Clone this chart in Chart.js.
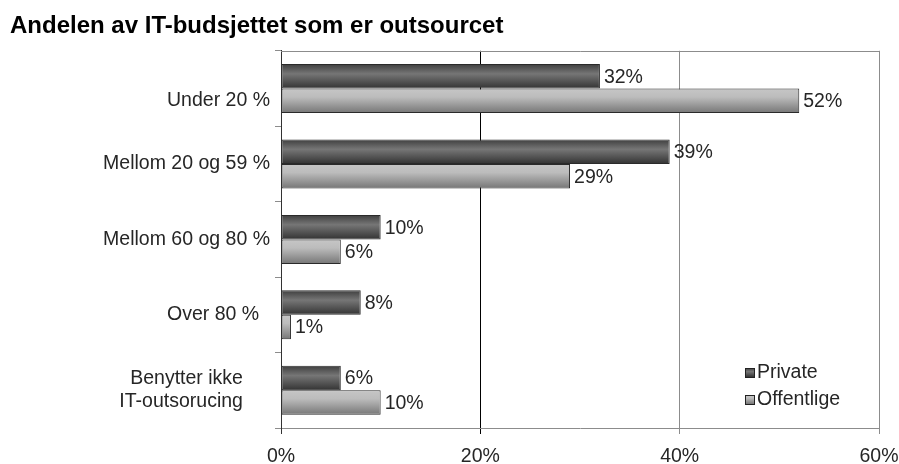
<!DOCTYPE html>
<html>
<head>
<meta charset="utf-8">
<script src="https://cdn.jsdelivr.net/npm/chart.js@4/dist/chart.umd.min.js"></script>
<style>
  html, body { margin: 0; padding: 0; background: #fff; }
  #wrap { width: 899px; height: 464px; }
</style>
</head>
<body>
<div id="wrap"><canvas id="c" width="899" height="464"></canvas></div>
<script>
// ---- data ----
const titleText = 'Andelen av IT-budsjettet som er outsourcet';
const categories = [['', 'Under 20 %'], 'Mellom 20 og 59 %', 'Mellom 60 og 80 %', 'Over 80 %', ['Benytter ikke', 'IT-outsorucing']];
const seriesNames = ['Private', 'Offentlige'];
const privateValues = [32, 39, 10, 8, 6];
const offentligeValues = [52, 29, 6, 1, 10];
const xTicks = [0, 20, 40, 60];

// ---- styling ----
const FONT = "'Liberation Sans', Arial, sans-serif";
const TXT = '#262626';
const labelPad = ['', '', '', '  ', '     '];   // visual right-indent per category label
const gradStops = [
  [[0, '#3e3e3e'], [0.4, '#767676'], [1, '#333333']],
  [[0, '#c6c6c6'], [0.35, '#bcbcbc'], [1, '#767676']]
];

function makeGrad(ctx, top, h, idx) {
  const g = ctx.createLinearGradient(0, top, 0, top + h);
  gradStops[idx].forEach(s => g.addColorStop(s[0], s[1]));
  return g;
}

const gradientPlugin = {
  id: 'grad',
  beforeDatasetsDraw(chart) {
    const ctx = chart.ctx;
    chart.data.datasets.forEach((ds, i) => {
      chart.getDatasetMeta(i).data.forEach(bar => {
        const top = bar.y - bar.height / 2;
        bar.options = Object.assign({}, bar.options, { backgroundColor: makeGrad(ctx, top, bar.height, i) });
      });
    });
  },
  afterDatasetsDraw(chart) {
    const ctx = chart.ctx;
    ctx.save();
    ctx.font = '19.5px ' + FONT;
    ctx.fillStyle = TXT;
    ctx.textAlign = 'left';
    ctx.textBaseline = 'middle';
    chart.data.datasets.forEach((ds, i) => {
      chart.getDatasetMeta(i).data.forEach((bar, j) => {
        ctx.fillText(ds.data[j] + '%', bar.x + 4, bar.y + 1);
      });
    });
    ctx.restore();
  },
  afterDraw(chart) {
    const ctx = chart.ctx;
    const a = chart.chartArea;
    ctx.save();
    // top frame line
    ctx.strokeStyle = '#8c8c8c';
    ctx.lineWidth = 1;
    ctx.beginPath();
    ctx.moveTo(a.left, Math.round(a.top) + 0.5);
    ctx.lineTo(a.right + 0.5, Math.round(a.top) + 0.5);
    ctx.stroke();
    // legend
    const lx = a.right - 134, ly0 = a.bottom - 56, step = 27, sq = 9;
    ctx.font = '19.5px ' + FONT;
    ctx.textBaseline = 'middle';
    ctx.textAlign = 'left';
    chart.data.datasets.forEach((ds, i) => {
      const cy = ly0 + i * step;
      const top = Math.round(cy - sq / 2);
      ctx.fillStyle = makeGrad(ctx, top, sq, i);
      ctx.fillRect(lx, top, sq, sq);
      ctx.strokeStyle = '#222';
      ctx.strokeRect(lx + 0.5, top + 0.5, sq, sq);
      ctx.fillStyle = TXT;
      ctx.fillText(ds.label, lx + 12, cy + 1);
    });
    ctx.restore();
  }
};

new Chart(document.getElementById('c'), {
  type: 'bar',
  data: {
    labels: categories,
    datasets: [
      { label: seriesNames[0], data: privateValues, borderColor: '#2a2a2a', borderWidth: 1, borderSkipped: false },
      { label: seriesNames[1], data: offentligeValues, borderColor: '#2a2a2a', borderWidth: 1, borderSkipped: false }
    ]
  },
  options: {
    indexAxis: 'y',
    responsive: false,
    animation: false,
    devicePixelRatio: 1,
    layout: { padding: { left: 10, right: 20, top: 0, bottom: 0 } },
    datasets: { bar: { categoryPercentage: 0.65, barPercentage: 1.0 } },
    plugins: {
      legend: { display: false },
      tooltip: { enabled: false },
      title: {
        display: true,
        text: titleText,
        align: 'start',
        color: '#000',
        font: { family: FONT, size: 24, weight: 'bold' },
        padding: { top: 12, bottom: 10 }
      }
    },
    scales: {
      x: {
        min: 0, max: 60,
        afterBuildTicks(scale) { scale.ticks = xTicks.map(v => ({ value: v })); },
        afterFit(scale) { scale.height = 36; scale.paddingRight = 0; scale.paddingLeft = 0; },
        ticks: {
          color: TXT,
          font: { family: FONT, size: 19.5 },
          padding: 11,
          callback: v => v + '%'
        },
        grid: {
          color: ctx => (ctx.tick && ctx.tick.value === 20) ? '#000' : (ctx.tick && ctx.tick.value === 0 ? '#333' : '#8c8c8c'),
          tickLength: 6,
          lineWidth: 1
        },
        border: { display: true, color: '#8c8c8c', width: 1 }
      },
      y: {
        offset: true,
        afterFit(scale) { scale.width = 271; },
        ticks: {
          color: TXT,
          font: { family: FONT, size: 19.5 },
          padding: 5,
          callback: function (value, index) {
            const lab = categories[index];
            const pad = labelPad[index];
            return Array.isArray(lab) ? lab.map(s => s ? s + pad : s) : lab + pad;
          }
        },
        grid: {
          offset: true,
          drawOnChartArea: false,
          tickLength: 6,
          color: '#8c8c8c'
        },
        border: { display: true, color: '#333', width: 1 }
      }
    }
  },
  plugins: [gradientPlugin]
});
</script>
</body>
</html>
